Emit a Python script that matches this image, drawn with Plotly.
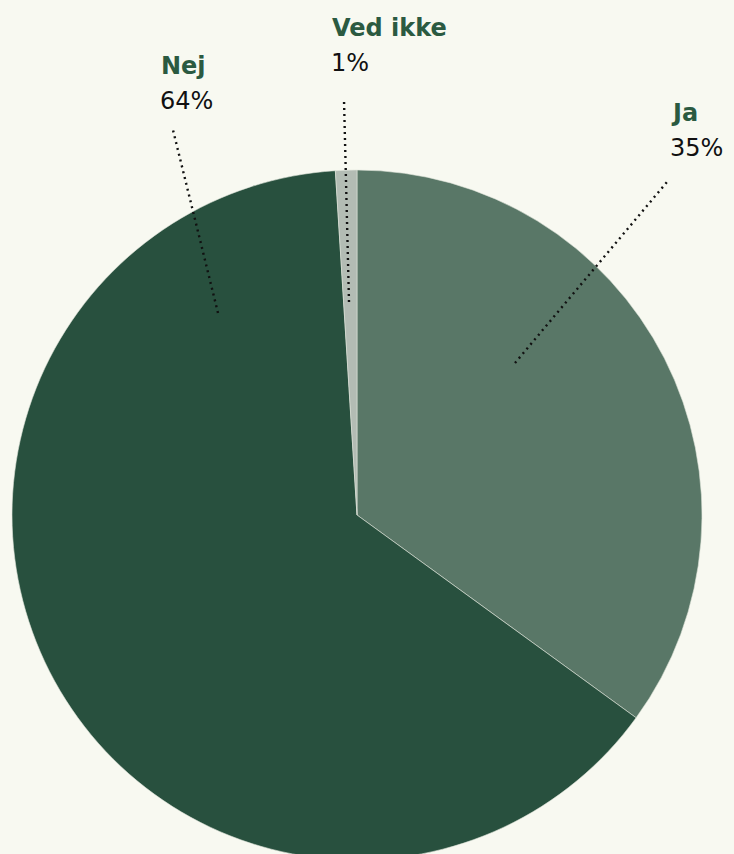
import plotly.graph_objects as go

labels = ["Ja", "Nej", "Ved ikke"]
values = [35, 64, 1]
colors = ["#597767", "#28503e", "#b3bcb4"]
pct_text = ["35%", "64%", "1%"]

BG = "#f8f9f1"
W, H = 734, 870
ML, MR, MT, MB = 12, 32, 170, 10
PW, PH = W - ML - MR, H - MT - MB
FONT = "DejaVu Sans"

fig = go.Figure(go.Pie(
    labels=labels, values=values, sort=False, direction="clockwise", rotation=0,
    marker=dict(colors=colors, line=dict(color="#dfe4da", width=0.6)),
    textinfo="none", hoverinfo="label+percent", showlegend=False,
))

def px(x):
    return (x - ML) / PW

def py(y):
    return 1 - (y - MT) / PH

# label positions (pixel coords) and leader lines
label_pos = {"Ja": (669, 113), "Nej": (159, 66), "Ved ikke": (330, 28)}
leaders = {"Ja": ((515, 363), (667, 182)),
           "Nej": ((218, 313), (173, 130)),
           "Ved ikke": ((349, 302), (344, 100))}

for lab, pct in zip(labels, pct_text):
    x, y = label_pos[lab]
    fig.add_annotation(x=px(x), y=py(y), xref="paper", yref="paper",
                       xanchor="left", yanchor="middle", showarrow=False,
                       text=f"<b>{lab}</b>",
                       font=dict(family=FONT, size=24, color="#2b5a41"))
    fig.add_annotation(x=px(x - 1), y=py(y + 35), xref="paper", yref="paper",
                       xanchor="left", yanchor="middle", showarrow=False,
                       text=pct,
                       font=dict(family=FONT, size=24, color="#111111"))
    (x0, y0), (x1, y1) = leaders[lab]
    fig.add_shape(type="line", xref="paper", yref="paper",
                  x0=px(x0), y0=py(y0), x1=px(x1), y1=py(y1),
                  line=dict(color="#111111", width=2.4, dash="2px,4px"))

fig.update_layout(
    width=W, height=H,
    margin=dict(l=ML, r=MR, t=MT, b=MB),
    paper_bgcolor=BG, plot_bgcolor=BG,
)

fig.write_html("out.html", config={"displayModeBar": False},
               post_script="document.body.style.margin='0';document.body.style.overflow='hidden';document.body.style.background='" + BG + "';")
